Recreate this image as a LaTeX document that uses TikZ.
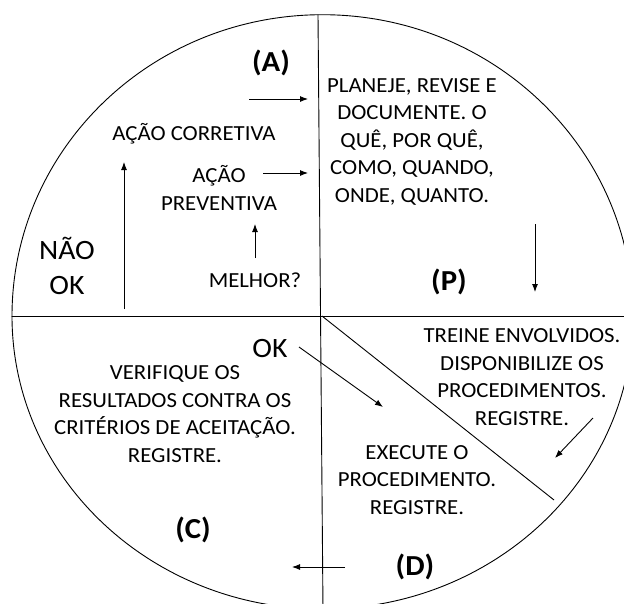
\documentclass[tikz,border=0pt]{standalone}
\usepackage{fontspec}
\setmainfont{Carlito}[FakeStretch=1.06]
\usetikzlibrary{arrows.meta}
\begin{document}
\begin{tikzpicture}[x=1pt,y=-1pt,
  body/.style={align=center, font=\fontsize{21.5}{27.5}\selectfont, inner sep=0pt, anchor=base},
  big/.style={align=center, font=\fontsize{28}{35}\selectfont, inner sep=0pt, anchor=base},
  lbl/.style={font=\fontsize{29}{32}\selectfont\bfseries, inner sep=0pt, anchor=center},
  arr/.style={-{Latex[length=8pt,width=6pt]}, line width=0.9pt},
  rule/.style={line width=0.9pt}]
\useasboundingbox (0,0) rectangle (624,603);
\begin{scope}
\clip (0,0) rectangle (624,603);
\coordinate (c) at (322.5,316);
\begin{scope}
\clip (0,0) rectangle (624,316);
\draw[rule] (c) ellipse [x radius=310.5pt, y radius=301.3pt];
\end{scope}
\begin{scope}
\clip (0,316) rectangle (624,603);
\draw[rule] (c) ellipse [x radius=310.5pt, y radius=293pt];
\end{scope}
\coordinate (vt) at (318,14.7);
\coordinate (vb) at (323,610);
\draw[rule] (vt) -- (vb);
\coordinate (hl) at (12,316);
\coordinate (hr) at (640,316);
\draw[rule] (hl) -- (hr);
\coordinate (d1) at (322,316);
\coordinate (d2) at (554,500);
\draw[rule] (d1) -- (d2);
\end{scope}
% labels
\node[lbl] (A) at (271,63) {(A)};
\node[lbl] (P) at (449,282) {(P)};
\node[lbl] (C) at (193,530) {(C)};
\node[lbl] (D) at (415,567) {(D)};
% texts
\node[body] (plan) at (412,202) {PLANEJE, REVISE E\\DOCUMENTE. O\\QUÊ, POR QUÊ,\\COMO, QUANDO,\\ONDE, QUANTO.};
\node[body] (corr) at (194,140) {AÇÃO CORRETIVA};
\node[body] (prev) at (219,210) {AÇÃO\\PREVENTIVA};
\node[body] (melhor) at (255,287) {MELHOR?};
\node[big] (nok) at (67,294) {NÃO\\OK};
\node[big] (ok) at (270,357) {OK};
\node[body] (verif) at (175,462) {VERIFIQUE OS\\RESULTADOS CONTRA OS\\CRITÉRIOS DE ACEITAÇÃO.\\REGISTRE.};
\node[body] (treine) at (522,425) {TREINE ENVOLVIDOS.\\DISPONIBILIZE OS\\PROCEDIMENTOS.\\REGISTRE.};
\node[body] (exec) at (417,514) {EXECUTE O\\PROCEDIMENTO.\\REGISTRE.};
% arrows
\coordinate (a1s) at (249,99);  \coordinate (a1e) at (308,99);
\coordinate (a2s) at (263,173); \coordinate (a2e) at (308,173);
\coordinate (a3s) at (124,309); \coordinate (a3e) at (124,162);
\coordinate (a4s) at (255,258); \coordinate (a4e) at (255,224);
\coordinate (a5s) at (535,224); \coordinate (a5e) at (535,292);
\coordinate (a6s) at (299,347); \coordinate (a6e) at (383,407);
\coordinate (a7s) at (593,418); \coordinate (a7e) at (555,458);
\coordinate (a8s) at (345,567); \coordinate (a8e) at (292,567);
\draw[arr] (a1s) -- (a1e);
\draw[arr] (a2s) -- (a2e);
\draw[arr] (a3s) -- (a3e);
\draw[arr] (a4s) -- (a4e);
\draw[arr] (a5s) -- (a5e);
\draw[arr] (a6s) -- (a6e);
\draw[arr] (a7s) -- (a7e);
\draw[arr] (a8s) -- (a8e);
\end{tikzpicture}
\end{document}
